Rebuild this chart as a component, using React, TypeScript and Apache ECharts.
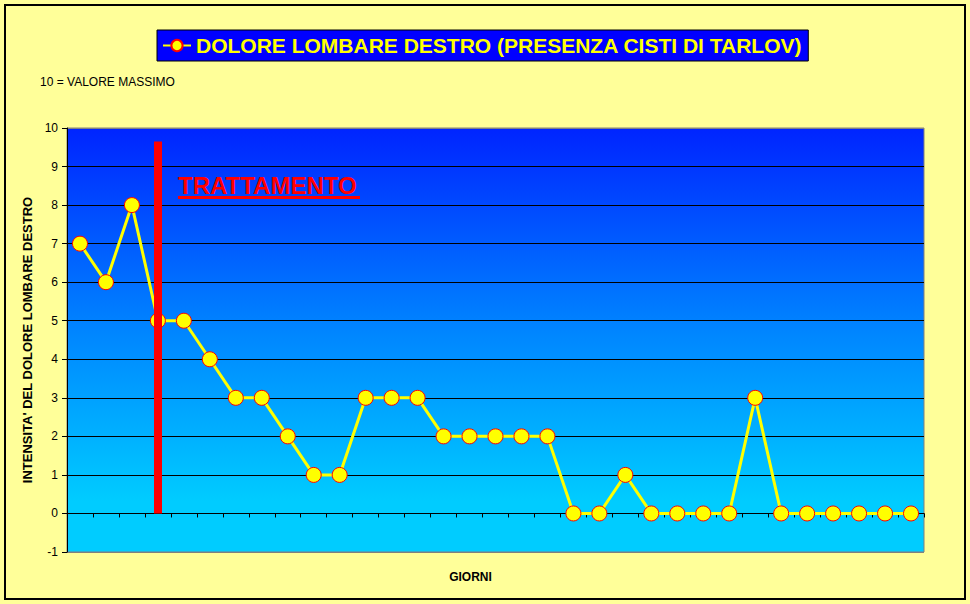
import React, { useEffect, useRef } from "react";
import * as echarts from "echarts";

const days = [
  "1", "2", "3", "4", "5", "6", "7", "8", "9", "10", "11",
  "12", "13", "14", "15", "16", "17", "18", "19", "20", "21", "22",
  "23", "24", "25", "26", "27", "28", "29", "30", "31", "32", "33",
];
const painValues = [
  7, 6, 8, 5, 5, 4, 3, 3, 2, 1, 1,
  3, 3, 3, 2, 2, 2, 2, 2, 0, 0, 1,
  0, 0, 0, 0, 3, 0, 0, 0, 0, 0, 0,
];
const treatmentDayIndex = 3;
const treatmentTop = 9.65;
const seriesName = "DOLORE LOMBARE DESTRO (PRESENZA CISTI DI TARLOV)";
const yAxisName = "INTENSITA' DEL DOLORE LOMBARE DESTRO";
const xAxisName = "GIORNI";
const noteText = "10 = VALORE MASSIMO";
const treatmentText = "TRATTAMENTO";

const FONT = "'Liberation Sans', Arial, sans-serif";

export default function App() {
  const ref = useRef<HTMLDivElement>(null);
  useEffect(() => {
    document.body.style.margin = "0";
    if (!ref.current) return;
    const chart = echarts.init(ref.current, null, { renderer: "svg" });
    const splitColors = ["#808080"];
    for (let i = 0; i < 10; i++) splitColors.push("#000000");
    splitColors.push("#808080");
    chart.setOption({
      animation: false,
      backgroundColor: "#FFFF99",
      textStyle: { fontFamily: FONT },
      legend: {
        show: true,
        left: 157,
        top: 30,
        backgroundColor: "#0000FF",
        borderColor: "#000000",
        borderWidth: 1,
        padding: [5, 6, 5, 5],
        itemWidth: 28,
        itemHeight: 14,
        textStyle: {
          color: "#FFFF00",
          fontSize: 21,
          fontWeight: "bold",
          fontFamily: FONT,
        },
        data: [seriesName],
      },
      grid: {
        left: 67,
        right: 46,
        top: 128,
        bottom: 52,
        outerBoundsMode: "none",
        containLabel: false,
        show: true,
        borderColor: "#808080",
        borderWidth: 1,
        backgroundColor: new echarts.graphic.LinearGradient(0, 0, 0, 1, [
          { offset: 0, color: "#0024FF" },
          { offset: 0.45, color: "#0080FF" },
          { offset: 0.88, color: "#00CCFF" },
          { offset: 1, color: "#00CCFF" },
        ]),
      },
      xAxis: {
        type: "category",
        data: days,
        boundaryGap: true,
        name: xAxisName,
        nameLocation: "middle",
        nameGap: 19,
        nameTextStyle: {
          color: "#000",
          fontWeight: "bold",
          fontSize: 12,
          fontFamily: FONT,
          padding: [0, 50, 0, 0],
        },
        axisLine: { onZero: true, lineStyle: { color: "#000", width: 1 } },
        axisTick: { show: true, length: 4, lineStyle: { color: "#000" } },
        axisLabel: { show: false },
        splitLine: { show: false },
      },
      yAxis: {
        type: "value",
        min: -1,
        max: 10,
        interval: 1,
        name: yAxisName,
        nameLocation: "middle",
        nameRotate: 90,
        nameGap: 32,
        nameTextStyle: {
          color: "#000",
          fontWeight: "bold",
          fontSize: 13,
          fontFamily: FONT,
        },
        axisLine: { show: true, lineStyle: { color: "#000", width: 1 } },
        axisTick: { show: true, length: 5, lineStyle: { color: "#000" } },
        axisLabel: { color: "#000", fontSize: 12, margin: 9, fontFamily: FONT },
        splitLine: { show: true, lineStyle: { color: splitColors, width: 1 } },
      },
      series: [
        {
          name: seriesName,
          type: "line",
          data: painValues,
          symbol: "circle",
          symbolSize: 15,
          lineStyle: { color: "#FFFF00", width: 3 },
          itemStyle: { color: "#FFFF00", borderColor: "#FF0000", borderWidth: 1 },
          z: 3,
          markLine: {
            silent: true,
            symbol: ["none", "none"],
            z: 10,
            label: { show: false },
            lineStyle: { color: "#FF0000", width: 8, type: "solid" },
            data: [
              [
                { coord: [treatmentDayIndex, 0] },
                { coord: [treatmentDayIndex, treatmentTop] },
              ],
            ],
          },
        },
      ],
      graphic: [
        {
          type: "rect",
          shape: { x: 5, y: 5, width: 960, height: 594 },
          style: { fill: "none", stroke: "#000", lineWidth: 2 },
          z: 0,
        },
        {
          type: "text",
          x: 40,
          y: 82,
          style: {
            text: noteText,
            fill: "#000",
            font: `12px ${FONT}`,
            textVerticalAlign: "middle",
          },
          z: 20,
        },
        {
          type: "text",
          x: 178,
          y: 185,
          style: {
            text: treatmentText,
            fill: "#FF0000",
            font: `bold 24px ${FONT}`,
            textVerticalAlign: "middle",
          },
          z: 20,
        },
        {
          type: "rect",
          shape: { x: 178, y: 196, width: 182, height: 3 },
          style: { fill: "#FF0000" },
          z: 20,
        },
      ],
    });
    return () => chart.dispose();
  }, []);
  return <div ref={ref} style={{ width: 970, height: 604 }} />;
}
